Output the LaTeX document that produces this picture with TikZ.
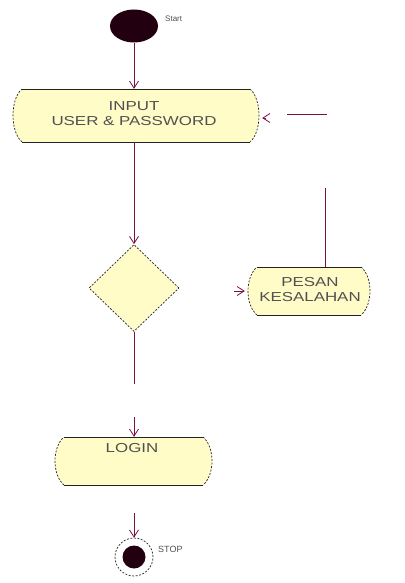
\documentclass[tikz,border=0pt]{standalone}
\usepackage{fontspec}
\setmainfont{Liberation Sans}
\newfontfamily\boxfont[FakeStretch=1.3]{Liberation Sans}
\usetikzlibrary{shapes.geometric,arrows.meta}
\definecolor{flowline}{HTML}{7A1240}
\definecolor{actfill}{HTML}{FFFCC8}
\definecolor{dotblack}{HTML}{222222}
\definecolor{txtgrey}{HTML}{505050}
\definecolor{startfill}{HTML}{220010}
\tikzset{
  flow/.style={draw=flowline, line width=0.9pt},
  arr/.style={flow, -{Straight Barb[length=7pt,width=9pt,line width=0.8pt]}},
  lbl/.style={font=\boxfont\fontsize{13}{15}\selectfont, text=txtgrey, align=center, inner sep=0pt},
  smalllbl/.style={font=\fontsize{8}{9}\selectfont, text=txtgrey, inner sep=0pt},
  anchorbox/.style={inner sep=0pt, draw=none},
}
% activity box: straight top/bottom, curved dotted ends
% #1,#2 = left,right x ; #3,#4 = top,bottom y
\newcommand{\actshape}[4]{%
  \fill[actfill] (#1+12,#3) -- (#2-12,#3)
    .. controls (#2,#3+10) and (#2,#4-10) .. (#2-12,#4)
    -- (#1+12,#4)
    .. controls (#1,#4-10) and (#1,#3+10) .. (#1+12,#3) -- cycle;
  \draw[dotblack, line width=0.8pt] (#1+12,#3) -- (#2-12,#3);
  \draw[dotblack, line width=1pt] (#1+12,#4) -- (#2-12,#4);
  \draw[dotblack, line width=0.7pt, dash pattern=on 2pt off 1.5pt]
    (#2-12,#3) .. controls (#2,#3+10) and (#2,#4-10) .. (#2-12,#4);
  \draw[dotblack, line width=0.7pt, dash pattern=on 2pt off 1.5pt]
    (#1+12,#4) .. controls (#1,#4-10) and (#1,#3+10) .. (#1+12,#3);
}
\begin{document}
\begin{tikzpicture}[x=1pt, y=-1pt]
  \useasboundingbox (0,0) rectangle (404,583);

  % start state
  \node[ellipse, fill=startfill, minimum width=48pt, minimum height=33pt, inner sep=0pt] (start) at (134,26) {};
  \node[smalllbl, anchor=west] (startlbl) at (165,19) {Start};

  % input user & password
  \actshape{10}{262}{89}{142}
  \node[anchorbox, minimum width=252pt, minimum height=53pt] (input) at (136,115.5) {};
  \node[lbl] (inputtxt) at (134,114) {INPUT\\USER \& PASSWORD};

  % decision
  \node[diamond, fill=actfill, draw=dotblack, line width=0.7pt, dash pattern=on 2pt off 1.5pt,
        minimum width=90pt, minimum height=87pt, inner sep=0pt] (dec) at (134,288) {};

  % error message
  \actshape{245}{373}{267}{315}
  \node[anchorbox, minimum width=128pt, minimum height=48pt] (pesan) at (309,291) {};
  \node[lbl] (pesantxt) at (310,290) {PESAN\\KESALAHAN};

  % login
  \actshape{52}{215}{437}{485}
  \node[anchorbox, minimum width=163pt, minimum height=48pt] (login) at (133.5,461) {};
  \node[lbl] (logintxt) at (132,448) {LOGIN};

  % stop state
  \node[circle, draw=dotblack, line width=0.7pt, dash pattern=on 2pt off 1.5pt,
        minimum size=38pt, inner sep=0pt] (stop) at (134,557) {};
  \node[circle, fill=startfill, minimum size=23pt, inner sep=0pt] (stopdot) at (stop.center) {};
  \node[smalllbl, font=\fontsize{9}{10}\selectfont, anchor=west] (stoplbl) at (158,549) {STOP};

  % connector end points
  \coordinate (decout) at (134,384);
  \coordinate (loginin) at (134,417);
  \coordinate (pesanin) at (234,291);
  \coordinate (retA) at (325,188);
  \coordinate (retB) at (327,114);
  \coordinate (retC) at (287,114);
  \coordinate (retD) at (266,118);
  \coordinate (stopin) at (134,513);

  % connectors
  \draw[arr] (start.south) -- (start.south |- input.north);
  \draw[arr] (dec.north |- input.south) -- (dec.north);
  \draw[flow] (dec.south) -- (decout);
  \draw[arr] (loginin) -- (loginin |- login.north);
  \draw[arr] (pesanin) -- (pesan.west);
  \draw[flow] (pesan.north -| retA) -- (retA);
  \draw[flow] (retB) -- (retC);
  \draw[arr] (retD) -- (input.east |- retD);
  \draw[arr] (stopin) -- (stop.north);
\end{tikzpicture}
\end{document}
